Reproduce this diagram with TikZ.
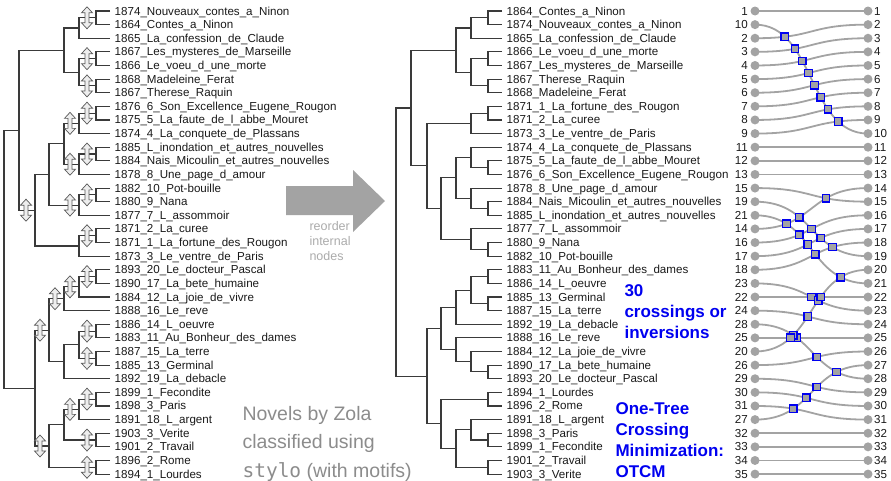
\documentclass[tikz,border=0pt]{standalone}
\usepackage{fontspec}
\setmainfont{Liberation Sans}
\setmonofont{DejaVu Sans Mono}
\usepackage{tikz}
\usepackage{xcolor}
\usetikzlibrary{intersections}
\definecolor{ink}{HTML}{3A3A3A}
\definecolor{linkgray}{HTML}{A3A3A3}
\definecolor{notegray}{HTML}{8C8C8C}
\definecolor{hintgray}{HTML}{ABABAB}
\definecolor{otcmblue}{HTML}{0000F0}
\definecolor{swapfill}{HTML}{EEEEEE}
\newcommand{\ry}[1]{11+(#1-1)*13.62}

\begin{document}
\begin{tikzpicture}[x=1pt, y=-1pt,
    tree/.style={draw=ink, line width=1.1pt},
    leaf/.style={anchor=west, inner xsep=4.5pt, inner ysep=0pt, text height=8.3pt,
                 text depth=0.3pt, text=black!90, font=\fontsize{11.6}{13}\selectfont},
    num/.style={inner sep=0pt, text height=8.3pt, text depth=0.3pt, text=black!90,
                font=\fontsize{11.6}{13}\selectfont},
    dot/.style={circle, fill=linkgray, minimum size=9pt, inner sep=0pt},
    link/.style={draw=linkgray, line width=1.8pt},
    xing/.style={draw=otcmblue, fill=linkgray, line width=1.3pt, minimum size=7.5pt, inner sep=0pt},
    note/.style={anchor=west, align=left, text=notegray, font=\fontsize{19.5}{28.5}\selectfont},
    hint/.style={anchor=west, align=left, text=hintgray, font=\fontsize{12.5}{15}\selectfont},
    otcm/.style={anchor=west, align=left, text=otcmblue, font=\fontsize{17}{21}\bfseries\selectfont},
    swapmark/.pic={
      \draw[draw=black!65, fill=swapfill, line width=0.7pt]
        (0,-11) -- (5.5,-5) -- (2,-5) -- (2,5) -- (5.5,5) -- (0,11)
        -- (-5.5,5) -- (-2,5) -- (-2,-5) -- (-5.5,-5) -- cycle;
    }]
    \useasboundingbox (0,0) rectangle (891,480);

    % tree before reordering
    \foreach \i/\txt in {1/1874\_Nouveaux\_contes\_a\_Ninon, 2/1864\_Contes\_a\_Ninon,
        3/1865\_La\_confession\_de\_Claude, 4/1867\_Les\_mysteres\_de\_Marseille,
        5/1866\_Le\_voeu\_d\_une\_morte, 6/1868\_Madeleine\_Ferat, 7/1867\_Therese\_Raquin,
        8/1876\_6\_Son\_Excellence\_Eugene\_Rougon, 9/1875\_5\_La\_faute\_de\_l\_abbe\_Mouret,
        10/1874\_4\_La\_conquete\_de\_Plassans, 11/1885\_L\_inondation\_et\_autres\_nouvelles,
        12/1884\_Nais\_Micoulin\_et\_autres\_nouvelles, 13/1878\_8\_Une\_page\_d\_amour,
        14/1882\_10\_Pot-bouille, 15/1880\_9\_Nana, 16/1877\_7\_L\_assommoir,
        17/1871\_2\_La\_curee, 18/1871\_1\_La\_fortune\_des\_Rougon, 19/1873\_3\_Le\_ventre\_de\_Paris,
        20/1893\_20\_Le\_docteur\_Pascal, 21/1890\_17\_La\_bete\_humaine,
        22/1884\_12\_La\_joie\_de\_vivre, 23/1888\_16\_Le\_reve, 24/1886\_14\_L\_oeuvre,
        25/1883\_11\_Au\_Bonheur\_des\_dames, 26/1887\_15\_La\_terre, 27/1885\_13\_Germinal,
        28/1892\_19\_La\_debacle, 29/1899\_1\_Fecondite, 30/1898\_3\_Paris,
        31/1891\_18\_L\_argent, 32/1903\_3\_Verite, 33/1901\_2\_Travail,
        34/1896\_2\_Rome, 35/1894\_1\_Lourdes}
        \node[leaf] (a\i) at (110,{\ry{\i}}) {\txt};

    \foreach \n/\x/\i in {A/96/1.5, B/79/2.25, C/96/4.5, D/96/6.5, E/79/5.5, F/64/3.875,
        G/96/8.5, H/79/9.25, I/96/11.5, J/79/12.25, K/64/10.75, L/96/14.5, M/79/15.25,
        N/49/13, P/96/17.5, Q/79/18.25, O/35/15.625, R/19/9.75, T/96/20.5, U/79/21.25,
        V/64/22.125, X/96/24.5, Y/96/26.5, Z/79/25.5, Z2/64/26.75, W/49/24.4375,
        AB/96/29.5, AC/79/30.25, AD/96/32.5, AE/64/31.375, AF/96/34.5, AG/49/32.9375,
        AH/35/28.6875, root/4/19.21875}
        \coordinate (l\n) at (\x,{\ry{\i}});

    \foreach \p/\u/\v in {A/a1.west/a2.west, B/lA/a3.west, C/a4.west/a5.west,
        D/a6.west/a7.west, E/lC/lD, F/lB/lE, G/a8.west/a9.west, H/lG/a10.west,
        I/a11.west/a12.west, J/lI/a13.west, K/lH/lJ, L/a14.west/a15.west, M/lL/a16.west,
        N/lK/lM, P/a17.west/a18.west, Q/lP/a19.west, O/lN/lQ, R/lF/lO,
        T/a20.west/a21.west, U/lT/a22.west, V/lU/a23.west, X/a24.west/a25.west,
        Y/a26.west/a27.west, Z/lX/lY, Z2/lZ/a28.west, W/lV/lZ2, AB/a29.west/a30.west,
        AC/lAB/a31.west, AD/a32.west/a33.west, AE/lAC/lAD, AF/a34.west/a35.west,
        AG/lAE/lAF, AH/lW/lAG, root/lR/lAH}
        \draw[tree] (\u) -| (l\p) |- (\v);

    \foreach \p in {A, C, D, G, H, I, J, L, M, P, O, T, U, V, X, Y, W, AB, AC, AD, AF, AG}
        \pic at ([xshift=-9pt]l\p) {swapmark};

    \fill[linkgray] (286,186) -- (353,186) -- (353,170) -- (385,201) -- (353,232)
        -- (353,215) -- (286,215) -- cycle;
    \node[hint] (hint) at (306,241) {reorder\\internal\\nodes};

    \node[note] (caption) at (239,443.5) {Novels by Zola\\classified using\\\texttt{stylo} (with motifs)};

    % tree after reordering
    \foreach \i/\txt in {1/1864\_Contes\_a\_Ninon, 2/1874\_Nouveaux\_contes\_a\_Ninon,
        3/1865\_La\_confession\_de\_Claude, 4/1866\_Le\_voeu\_d\_une\_morte,
        5/1867\_Les\_mysteres\_de\_Marseille, 6/1867\_Therese\_Raquin, 7/1868\_Madeleine\_Ferat,
        8/1871\_1\_La\_fortune\_des\_Rougon, 9/1871\_2\_La\_curee, 10/1873\_3\_Le\_ventre\_de\_Paris,
        11/1874\_4\_La\_conquete\_de\_Plassans, 12/1875\_5\_La\_faute\_de\_l\_abbe\_Mouret,
        13/1876\_6\_Son\_Excellence\_Eugene\_Rougon, 14/1878\_8\_Une\_page\_d\_amour,
        15/1884\_Nais\_Micoulin\_et\_autres\_nouvelles, 16/1885\_L\_inondation\_et\_autres\_nouvelles,
        17/1877\_7\_L\_assommoir, 18/1880\_9\_Nana, 19/1882\_10\_Pot-bouille,
        20/1883\_11\_Au\_Bonheur\_des\_dames, 21/1886\_14\_L\_oeuvre, 22/1885\_13\_Germinal,
        23/1887\_15\_La\_terre, 24/1892\_19\_La\_debacle, 25/1888\_16\_Le\_reve,
        26/1884\_12\_La\_joie\_de\_vivre, 27/1890\_17\_La\_bete\_humaine,
        28/1893\_20\_Le\_docteur\_Pascal, 29/1894\_1\_Lourdes, 30/1896\_2\_Rome,
        31/1891\_18\_L\_argent, 32/1898\_3\_Paris, 33/1899\_1\_Fecondite,
        34/1901\_2\_Travail, 35/1903\_3\_Verite}
        \node[leaf] (b\i) at (502,{\ry{\i}}) {\txt};

    \foreach \n/\x/\i in {A/488/1.5, B/471/2.25, C/488/4.5, D/488/6.5, E/471/5.5, F/456/3.875,
        P/488/8.5, Q/471/9.25, G/488/12.5, H/471/11.75, I/488/15.5, J/471/14.75,
        K/456/13.25, L/488/18.5, M/471/17.75, N/441/15.5, O/427/12.375, R/411/8.125,
        X/488/20.5, Y/488/22.5, Z/471/21.5, Z2/456/22.75, T/488/27.5, U/471/26.75,
        V/456/25.875, W/441/24.3125, AF/488/29.5, AB/488/32.5, AC/471/31.75,
        AD/488/34.5, AE/456/33.125, AG/441/31.3125, AH/427/27.8125, root/396/17.96875}
        \coordinate (r\n) at (\x,{\ry{\i}});

    \foreach \p/\u/\v in {A/b1.west/b2.west, B/rA/b3.west, C/b4.west/b5.west,
        D/b6.west/b7.west, E/rC/rD, F/rB/rE, P/b8.west/b9.west, Q/rP/b10.west,
        G/b12.west/b13.west, H/b11.west/rG, I/b15.west/b16.west, J/b14.west/rI,
        K/rH/rJ, L/b18.west/b19.west, M/b17.west/rL, N/rK/rM, O/rQ/rN, R/rF/rO,
        X/b20.west/b21.west, Y/b22.west/b23.west, Z/rX/rY, Z2/rZ/b24.west,
        T/b27.west/b28.west, U/b26.west/rT, V/b25.west/rU, W/rZ2/rV,
        AF/b29.west/b30.west, AB/b32.west/b33.west, AC/b31.west/rAB,
        AD/b34.west/b35.west, AE/rAC/rAD, AG/rAF/rAE, AH/rW/rAG, root/rR/rAH}
        \draw[tree] (\u) -| (r\p) |- (\v);

    % tanglegram
    \foreach \i/\k in {1/1, 2/10, 3/2, 4/3, 5/4, 6/5, 7/6, 8/7, 9/8, 10/9, 11/11, 12/12,
        13/13, 14/15, 15/19, 16/21, 17/14, 18/16, 19/17, 20/18, 21/23, 22/22, 23/24,
        24/28, 25/25, 26/20, 27/26, 28/29, 29/30, 30/31, 31/27, 32/32, 33/33, 34/34, 35/35} {
        \node[dot] (p\i) at (755,{\ry{\i}}) {};
        \node[dot] (q\i) at (868,{\ry{\i}}) {};
        \node[num, anchor=east] (np\i) at (748,{\ry{\i}}) {\k};
        \node[num, anchor=west] (nq\i) at (874,{\ry{\i}}) {\i};
    }

    \foreach \i/\k in {2/10, 3/2, 4/3, 5/4, 6/5, 7/6, 8/7, 9/8, 10/9, 14/15, 15/19, 16/21,
        17/14, 18/16, 19/17, 20/18, 21/23, 23/24, 24/28, 26/20, 27/26, 28/29, 29/30,
        30/31, 31/27}
        \draw[link, name path global=c\i-link] (p\i.center) .. controls +(60,0) and +(-60,0) .. (q\k.center);
    \foreach \i in {1, 11, 12, 13, 22, 25, 32, 33, 34, 35}
        \draw[link, name path global=c\i-link] (p\i.center) -- (q\i.center);

    \foreach \i/\j in {2/3, 2/4, 2/5, 2/6, 2/7, 2/8, 2/9, 2/10, 14/17, 15/17, 15/18, 15/19,
        15/20, 16/17, 16/18, 16/19, 16/20, 16/26, 21/22, 21/26, 22/26, 23/26, 24/25,
        24/26, 24/27, 24/31, 25/26, 28/31, 29/31, 30/31}
        \path[name intersections={of=c\i-link and c\j-link}] node[xing] (x\i-\j) at (intersection-1) {};

    \node[otcm] (count) at (621,311.5) {30\\crossings or\\inversions};
    \node[otcm] (otcm) at (612,440) {One-Tree\\Crossing\\Minimization:\\OTCM};
\end{tikzpicture}
\end{document}
